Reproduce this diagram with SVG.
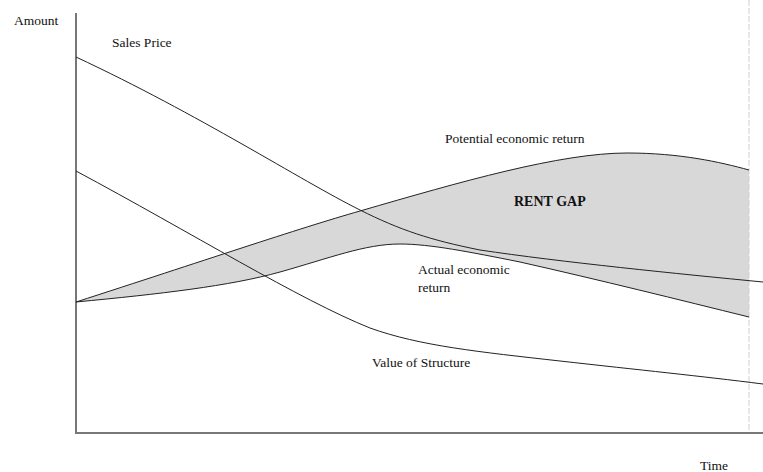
<svg xmlns="http://www.w3.org/2000/svg" width="763" height="472" viewBox="0 0 763 472">
<style>
.t{font-family:"Liberation Serif","Times New Roman",serif;font-size:13.5px;fill:#111}
.b{font-weight:bold;font-size:14px}
.c{fill:none;stroke:#222;stroke-width:1}
.ax{fill:none;stroke:#777;stroke-width:2}
</style>
<rect width="763" height="472" fill="#fff"/>
<g id="rent-gap-area">
<path d="M76,302 C200,262 300,228 360,211 C460,182 560,153 627,153 C680,153 720,162 749,170 L749,317 C680,300 600,280 520,262 C470,252 430,244 400,244 C365,244 330,258 280,272 C230,286 160,294 76,302 Z" fill="#d8d8d8"/>
</g>
<g id="guide">
<line x1="749" y1="0" x2="749" y2="433" stroke="#c8d4c8" stroke-width="1" stroke-dasharray="6,2"/>
</g>
<g id="axes">
<line class="ax" x1="76" y1="13" x2="76" y2="434"/>
<line class="ax" x1="75" y1="433" x2="763" y2="433"/>
</g>
<g id="connectors">
<path id="potential" class="c" d="M76,302 C200,262 300,228 360,211 C460,182 560,153 627,153 C680,153 720,162 749,170"/>
<path id="actual" class="c" d="M76,302 C160,294 230,286 280,272 C330,258 365,244 400,244 C430,244 470,252 520,262 C600,280 680,300 749,317"/>
<path id="sales" class="c" d="M76,57 C200,115 300,180 360,210 C400,230 430,240 480,250 C560,262 680,274 763,282"/>
<path id="structure" class="c" d="M76,171 C190,232 300,300 370,328 C420,346 480,352 560,361 C640,370 700,376 763,384"/>
</g>
<g id="labels">
<text class="t" x="14" y="25">Amount</text>
<text class="t" x="112" y="47">Sales Price</text>
<text class="t" x="445" y="143">Potential economic return</text>
<text class="t b" x="514" y="206">RENT GAP</text>
<text class="t" x="418" y="274">Actual economic</text>
<text class="t" x="418" y="292">return</text>
<text class="t" x="372" y="367">Value of Structure</text>
<text class="t" x="700" y="470">Time</text>
</g>
</svg>
